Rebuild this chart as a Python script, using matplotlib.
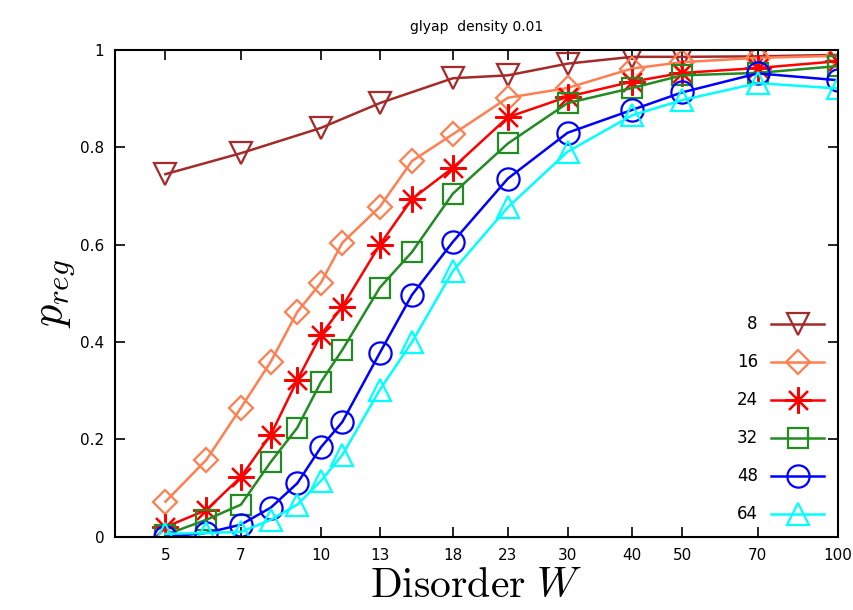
import numpy as np
import matplotlib.pyplot as plt
from matplotlib.ticker import FixedLocator, FixedFormatter, NullLocator

plt.rcParams['mathtext.fontset'] = 'cm'

# disorder values
W8 = [5, 7, 10, 13, 18, 23, 30, 40, 50, 70, 100]
W = [5, 6, 7, 8, 9, 10, 11, 13, 15, 18, 23, 30, 40, 50, 70, 100]

p8 = [0.745, 0.788, 0.84, 0.891, 0.942, 0.948, 0.972, 0.986, 0.986, 0.987, 0.99]
p16 = [0.072, 0.158, 0.265, 0.36, 0.462, 0.522, 0.604, 0.678, 0.772, 0.827, 0.902, 0.922, 0.962, 0.975, 0.984, 0.988]
p24 = [0.02, 0.055, 0.123, 0.21, 0.322, 0.415, 0.473, 0.60, 0.694, 0.758, 0.862, 0.904, 0.935, 0.953, 0.963, 0.977]
p32 = [0.004, 0.035, 0.066, 0.154, 0.224, 0.318, 0.384, 0.512, 0.585, 0.705, 0.808, 0.891, 0.922, 0.948, 0.953, 0.967]
p48 = [0.0, 0.008, 0.025, 0.06, 0.11, 0.184, 0.236, 0.378, 0.497, 0.606, 0.736, 0.83, 0.877, 0.913, 0.952, 0.938]
p64 = [0.006, 0.008, 0.01, 0.035, 0.066, 0.115, 0.168, 0.302, 0.40, 0.546, 0.677, 0.791, 0.866, 0.897, 0.932, 0.921]

ticks = [5, 7, 10, 13, 18, 23, 30, 40, 50, 70, 100]

fig = plt.figure(figsize=(8.54, 6.1), dpi=100)
ax = fig.add_axes([0.135, 0.12, 0.846, 0.798])

kw = dict(lw=1.8, mew=1.6, mfc='none')
ax.plot(W8, p8, color='#a52a2a', marker='v', ms=16, label='8', **kw)
ax.plot(W, p16, color='#ff7f50', marker='D', ms=12, label='16', **kw)
ax.plot(W, p24, color='#ff0000', marker=(8, 2, 0), ms=19, label='24', **kw)
ax.plot(W, p32, color='#228b22', marker='s', ms=14, label='32', **kw)
ax.plot(W, p48, color='#0000ff', marker='o', ms=16, label='48', **kw)
ax.plot(W, p64, color='#00ffff', marker='^', ms=16, label='64', **kw)

ax.set_xscale('log')
ax.set_xlim(4, 100)
ax.set_ylim(0, 1)
ax.xaxis.set_major_locator(FixedLocator(ticks))
ax.xaxis.set_major_formatter(FixedFormatter([str(t) for t in ticks]))
ax.xaxis.set_minor_locator(NullLocator())
ax.set_yticks([0, 0.2, 0.4, 0.6, 0.8, 1])
ax.set_yticklabels(['0', '0.2', '0.4', '0.6', '0.8', '1'])
ax.tick_params(direction='in', top=True, right=True, length=7, width=1.2,
               labelsize=11, pad=8)
for s in ax.spines.values():
    s.set_linewidth(1.5)

ax.set_xlabel(r'$\mathrm{Disorder}\ W$', fontsize=30, labelpad=1)
ax.set_ylabel(r'$p_{reg}$', fontsize=32, labelpad=2)
ax.set_title('glyap  density 0.01', fontsize=10, pad=14)

ax.legend(loc='lower right', frameon=False, markerfirst=False, fontsize=12,
          handlelength=3.2, labelspacing=1.2, borderaxespad=0.4)

fig.savefig('out.png', dpi=100)
